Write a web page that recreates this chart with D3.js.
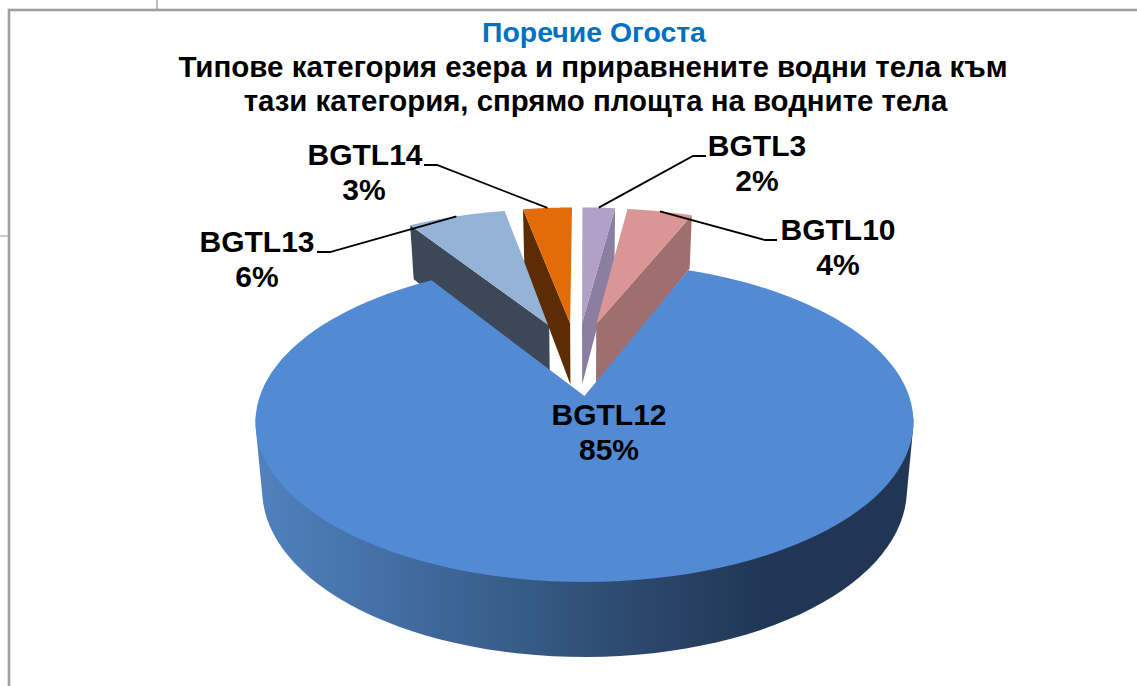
<!DOCTYPE html>
<html>
<head>
<meta charset="utf-8">
<script src="https://cdn.jsdelivr.net/npm/d3@7/dist/d3.min.js"></script>
<style>
html, body { margin: 0; padding: 0; background: #fff; overflow: hidden; }
text { font-family: "Liberation Sans", Arial, sans-serif; font-weight: bold; }
</style>
</head>
<body>
<svg id="chart" width="1137" height="686"></svg>
<script>
// values
const categories = ["BGTL3", "BGTL10", "BGTL12", "BGTL13", "BGTL14"];
const shares = [2, 4, 85, 6, 3];
const titleLines = [
    "Поречие Огоста",
    "Типове категория езера и приравнените водни тела към",
    "тази категория, спрямо площта на водните тела"
];

const topColors = ["#b1a0c7", "#d99694", "#528ad4", "#95b3d7", "#e36c09"];
const wallColors = ["#8c7ea0", "#a06e6e", "url(#mainWall)", "#3c4858", "#5c2d05"];
const drawOrder = ["BGTL13", "BGTL14", "BGTL3", "BGTL10", "BGTL12"];

// label anchor: text centre, first baseline, elbow x and end of the short horizontal bit
const labelLayout = {
    BGTL3: { x: 757, y: 156, line: [706, 693] },
    BGTL10: { x: 838, y: 240, line: [777, 765] },
    BGTL12: { x: 609, y: 425 },
    BGTL13: { x: 257, y: 252, line: [317, 330] },
    BGTL14: { x: 365, y: 165, line: [424, 437] }
};

const svg = d3.select("#chart");

// frame of the chart and the bits of the page behind it
svg.append("rect").attr("x", 9).attr("y", 10).attr("width", 1200).attr("height", 760)
    .attr("fill", "none").attr("stroke", "#a0a0a0").attr("stroke-width", 2.6);
svg.append("line").attr("x1", 157).attr("x2", 157).attr("y1", 0).attr("y2", 9)
    .attr("stroke", "#909090").attr("stroke-width", 1.2);
svg.append("line").attr("x1", 0).attr("x2", 8).attr("y1", 236).attr("y2", 236)
    .attr("stroke", "#a8a8a8").attr("stroke-width", 1.2);

const defs = svg.append("defs");
const grad = defs.append("linearGradient").attr("id", "mainWall")
    .attr("gradientUnits", "userSpaceOnUse")
    .attr("x1", 255).attr("x2", 912).attr("y1", 0).attr("y2", 0);
[[0, "#5082be"], [0.22, "#426da2"], [0.45, "#33577f"], [0.62, "#2a4468"], [0.78, "#213655"], [1, "#213655"]]
    .forEach(s => grad.append("stop").attr("offset", s[0]).attr("stop-color", s[1]));

// perspective of the pie plane, fitted on the big slice
const cx = 584.5, cy = 396, sR = 324.6, tR = 155.8, k = 0.1625;
const explode = 0.254, centerX = -0.024, centerY = 0.253;

function project(p) {
    const w = 1 + k * p[1];
    return [cx + sR * p[0] / w, cy - tR * p[1] / w];
}
// same point on the underside of the slice
function projectBottom(p) {
    const q = project(p);
    return [cx + (q[0] - cx) * 0.98, q[1] + 66 - 9 * p[1]];
}

const pie = d3.pie().sort(null).value((d, i) => shares[i]);
const arcs = pie(categories);
const lineGen = d3.line();

function apexOf(a) {
    const mid = (a.startAngle + a.endAngle) / 2;
    return [centerX + explode * Math.sin(mid), centerY + explode * Math.cos(mid)];
}
function rimPoint(a, angle) {
    const c = apexOf(a);
    return [c[0] + Math.sin(angle), c[1] + Math.cos(angle)];
}
function rim(a) {
    return d3.range(0, 121).map(i => rimPoint(a, a.startAngle + (a.endAngle - a.startAngle) * i / 120));
}

const pieG = svg.append("g");
drawOrder.forEach(name => {
    const i = categories.indexOf(name);
    const a = arcs[i];
    const c = apexOf(a);
    const edge = rim(a);
    if (name == "BGTL12") {
        // big slice shows its round outer wall, hull of the near part of both rims
        // (stop below the apex or the hull shows through the gap between the slices)
        const near = edge.filter(p => p[1] < -0.1);
        const wall = d3.polygonHull(near.map(project).concat(near.map(projectBottom)));
        pieG.append("path").attr("d", lineGen(wall) + "Z").attr("fill", wallColors[i]);
    } else {
        // small ones only show the cut side that faces us
        const mid = (a.startAngle + a.endAngle) / 2;
        const end = rimPoint(a, mid > Math.PI ? a.startAngle : a.endAngle);
        const wall = [project(end), project(c), projectBottom(c), projectBottom(end)];
        pieG.append("path").attr("d", lineGen(wall) + "Z").attr("fill", wallColors[i]);
    }
    const top = [project(c)].concat(edge.map(project));
    pieG.append("path").attr("d", lineGen(top) + "Z").attr("fill", topColors[i]);
});

// leader lines end on the middle of each slice's outer edge
const leaderG = svg.append("g");
categories.forEach((name, i) => {
    const l = labelLayout[name];
    if (!l.line) return;
    const a = arcs[i];
    const tip = project(rimPoint(a, (a.startAngle + a.endAngle) / 2));
    leaderG.append("path")
        .attr("d", lineGen([[l.line[0], l.y], [l.line[1], l.y], tip]))
        .attr("fill", "none").attr("stroke", "#000").attr("stroke-width", 1.8);
});

const labelG = svg.append("g").attr("text-anchor", "middle").attr("fill", "#000").attr("font-size", 30);
categories.forEach((name, i) => {
    const l = labelLayout[name];
    labelG.append("text").attr("x", l.x).attr("y", l.y).text(name);
    labelG.append("text").attr("x", l.x + (name == "BGTL14" ? -1 : 0)).attr("y", l.y + 35).text(shares[i] + "%");
});

const titleG = svg.append("g").attr("text-anchor", "middle");
titleG.append("text").attr("x", 594).attr("y", 42).attr("font-size", 28.4).attr("fill", "#0070c0").text(titleLines[0]);
titleG.append("text").attr("x", 593).attr("y", 76.5).attr("font-size", 29.5).attr("fill", "#000").text(titleLines[1]);
titleG.append("text").attr("x", 595.5).attr("y", 111).attr("font-size", 29.4).attr("fill", "#000").text(titleLines[2]);
</script>
</body>
</html>
